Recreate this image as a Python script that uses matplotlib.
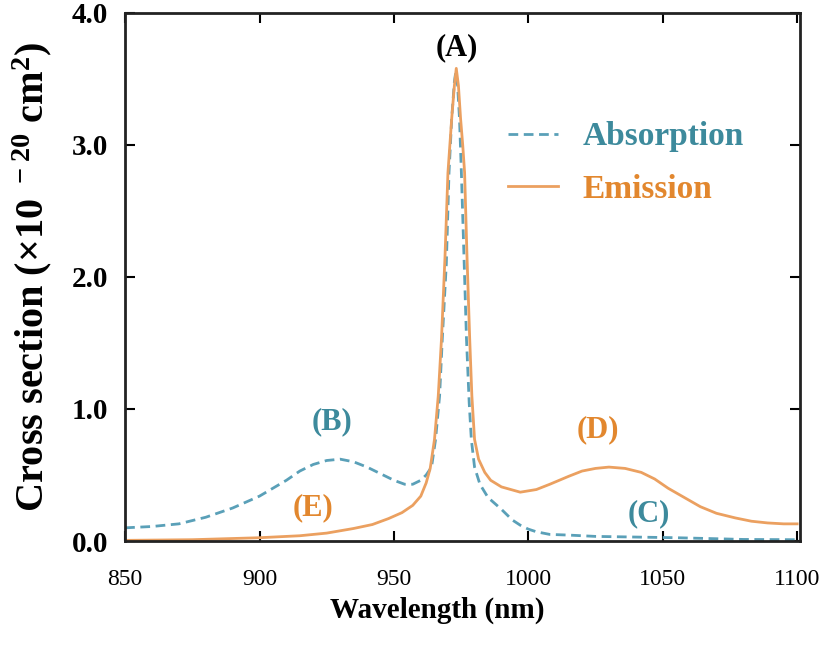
import matplotlib
matplotlib.use('Agg')
import matplotlib.pyplot as plt

plt.rcParams['font.family'] = ['Liberation Serif', 'DejaVu Serif']
plt.rcParams['mathtext.fontset'] = 'custom'
plt.rcParams['mathtext.rm'] = 'Liberation Serif:bold'
plt.rcParams['mathtext.bf'] = 'Liberation Serif:bold'
plt.rcParams['mathtext.default'] = 'bf'

# absorption cross section (dashed)
abs_wl = [850, 860, 870, 880, 890, 900, 905, 910, 915, 920, 925, 930, 935, 940,
          945, 950, 954, 957, 960, 962, 964, 965.5, 967, 968, 969.5, 970.5, 971.5,
          972.5, 973, 973.7, 974.4, 975.1, 976, 977, 978, 978.8, 980, 982, 985,
          990, 994, 997, 1000, 1003, 1008, 1015, 1025, 1040, 1055, 1065, 1080, 1100]
abs_val = [0.10, 0.11, 0.13, 0.18, 0.25, 0.34, 0.40, 0.46, 0.53, 0.58, 0.61, 0.62, 0.60, 0.56,
           0.51, 0.46, 0.43, 0.43, 0.46, 0.50, 0.56, 0.77, 1.10, 1.53, 2.10, 2.79, 3.20,
           3.48, 3.55, 3.45, 3.20, 2.79, 2.20, 1.53, 1.05, 0.77, 0.56, 0.43, 0.33,
           0.24, 0.16, 0.12, 0.09, 0.07, 0.05, 0.045, 0.035, 0.03, 0.025, 0.02, 0.012, 0.01]

# emission cross section (solid)
em_wl = [850, 875, 900, 915, 925, 935, 942, 948, 953, 957, 960, 962, 963.5, 965.1,
         966.5, 967.7, 969, 970.1, 971.5, 972.5, 973.2, 974, 974.8, 975.6, 976.3,
         977.2, 978.2, 979, 980, 981.5, 983.8, 986, 990, 997, 1003, 1008, 1015, 1020,
         1025, 1030, 1036, 1042, 1047, 1052, 1058, 1064, 1070, 1077, 1083, 1089, 1095, 1100]
em_val = [0.005, 0.01, 0.025, 0.04, 0.06, 0.095, 0.125, 0.17, 0.215, 0.27, 0.34, 0.44, 0.55, 0.77,
          1.10, 1.53, 2.15, 2.79, 3.20, 3.45, 3.58, 3.45, 3.20, 3.00, 2.79,
          2.15, 1.53, 1.10, 0.77, 0.62, 0.52, 0.46, 0.41, 0.37, 0.39, 0.43, 0.49, 0.53,
          0.55, 0.56, 0.55, 0.52, 0.47, 0.40, 0.33, 0.26, 0.21, 0.175, 0.15, 0.137, 0.13, 0.13]

x_ticks = [850, 900, 950, 1000, 1050, 1100]
y_ticks = [0.0, 1.0, 2.0, 3.0, 4.0]

peak_labels = ['(A)', '(B)', '(C)', '(D)', '(E)']
peak_pos = [(973.3, 3.74), (926.8, 0.90), (1045, 0.21), (1025.8, 0.84), (920, 0.25)]

abs_color = '#5aa0b8'
em_color = '#eba060'
abs_text = '#3d8a9c'
em_text = '#e2872e'
label_colors = ['black', abs_text, abs_text, em_text, em_text]

fig = plt.figure(figsize=(8.34, 6.46), dpi=100)
ax = fig.add_axes([0.150, 0.1625, 0.809, 0.8175])

ax.plot(abs_wl, abs_val, color=abs_color, lw=2.0, ls=(0, (3.5, 2)), label='Absorption')
ax.plot(em_wl, em_val, color=em_color, lw=2.0, label='Emission')

ax.set_xlim(850, 1101)
ax.set_ylim(0, 4.0)
ax.set_xticks(x_ticks)
ax.set_yticks(y_ticks)
ax.set_xticklabels([str(t) for t in x_ticks], fontsize=17)
ax.set_yticklabels(['%.1f' % t for t in y_ticks], fontsize=21, fontweight='bold')
ax.tick_params(direction='in', length=7, width=1.5, top=True, right=True)
ax.tick_params(axis='x', pad=20)
ax.tick_params(axis='y', pad=12)
for s in ax.spines.values():
    s.set_linewidth(2.0)
    s.set_color('#222222')

ax.set_xlabel('Wavelength (nm)', fontsize=21, fontweight='bold')
ax.xaxis.set_label_coords(0.463, -0.105)
ax.set_ylabel('Cross section (×10$^{\\ -20}$ cm$^{2}$)', fontsize=29, fontweight='bold')
ax.yaxis.set_label_coords(-0.106, 0.5)

for txt, (x, y), c in zip(peak_labels, peak_pos, label_colors):
    ax.text(x, y, txt, color=c, fontsize=22, fontweight='bold', ha='center', va='center')

leg = ax.legend(loc='upper left', bbox_to_anchor=(0.567, 0.795), frameon=False,
                prop={'size': 24, 'weight': 'bold'}, handlelength=1.5, handletextpad=0.75,
                labelspacing=0.65, borderpad=0, borderaxespad=0)
for t, c in zip(leg.get_texts(), [abs_text, em_text]):
    t.set_color(c)

fig.savefig('out.png', dpi=100)
